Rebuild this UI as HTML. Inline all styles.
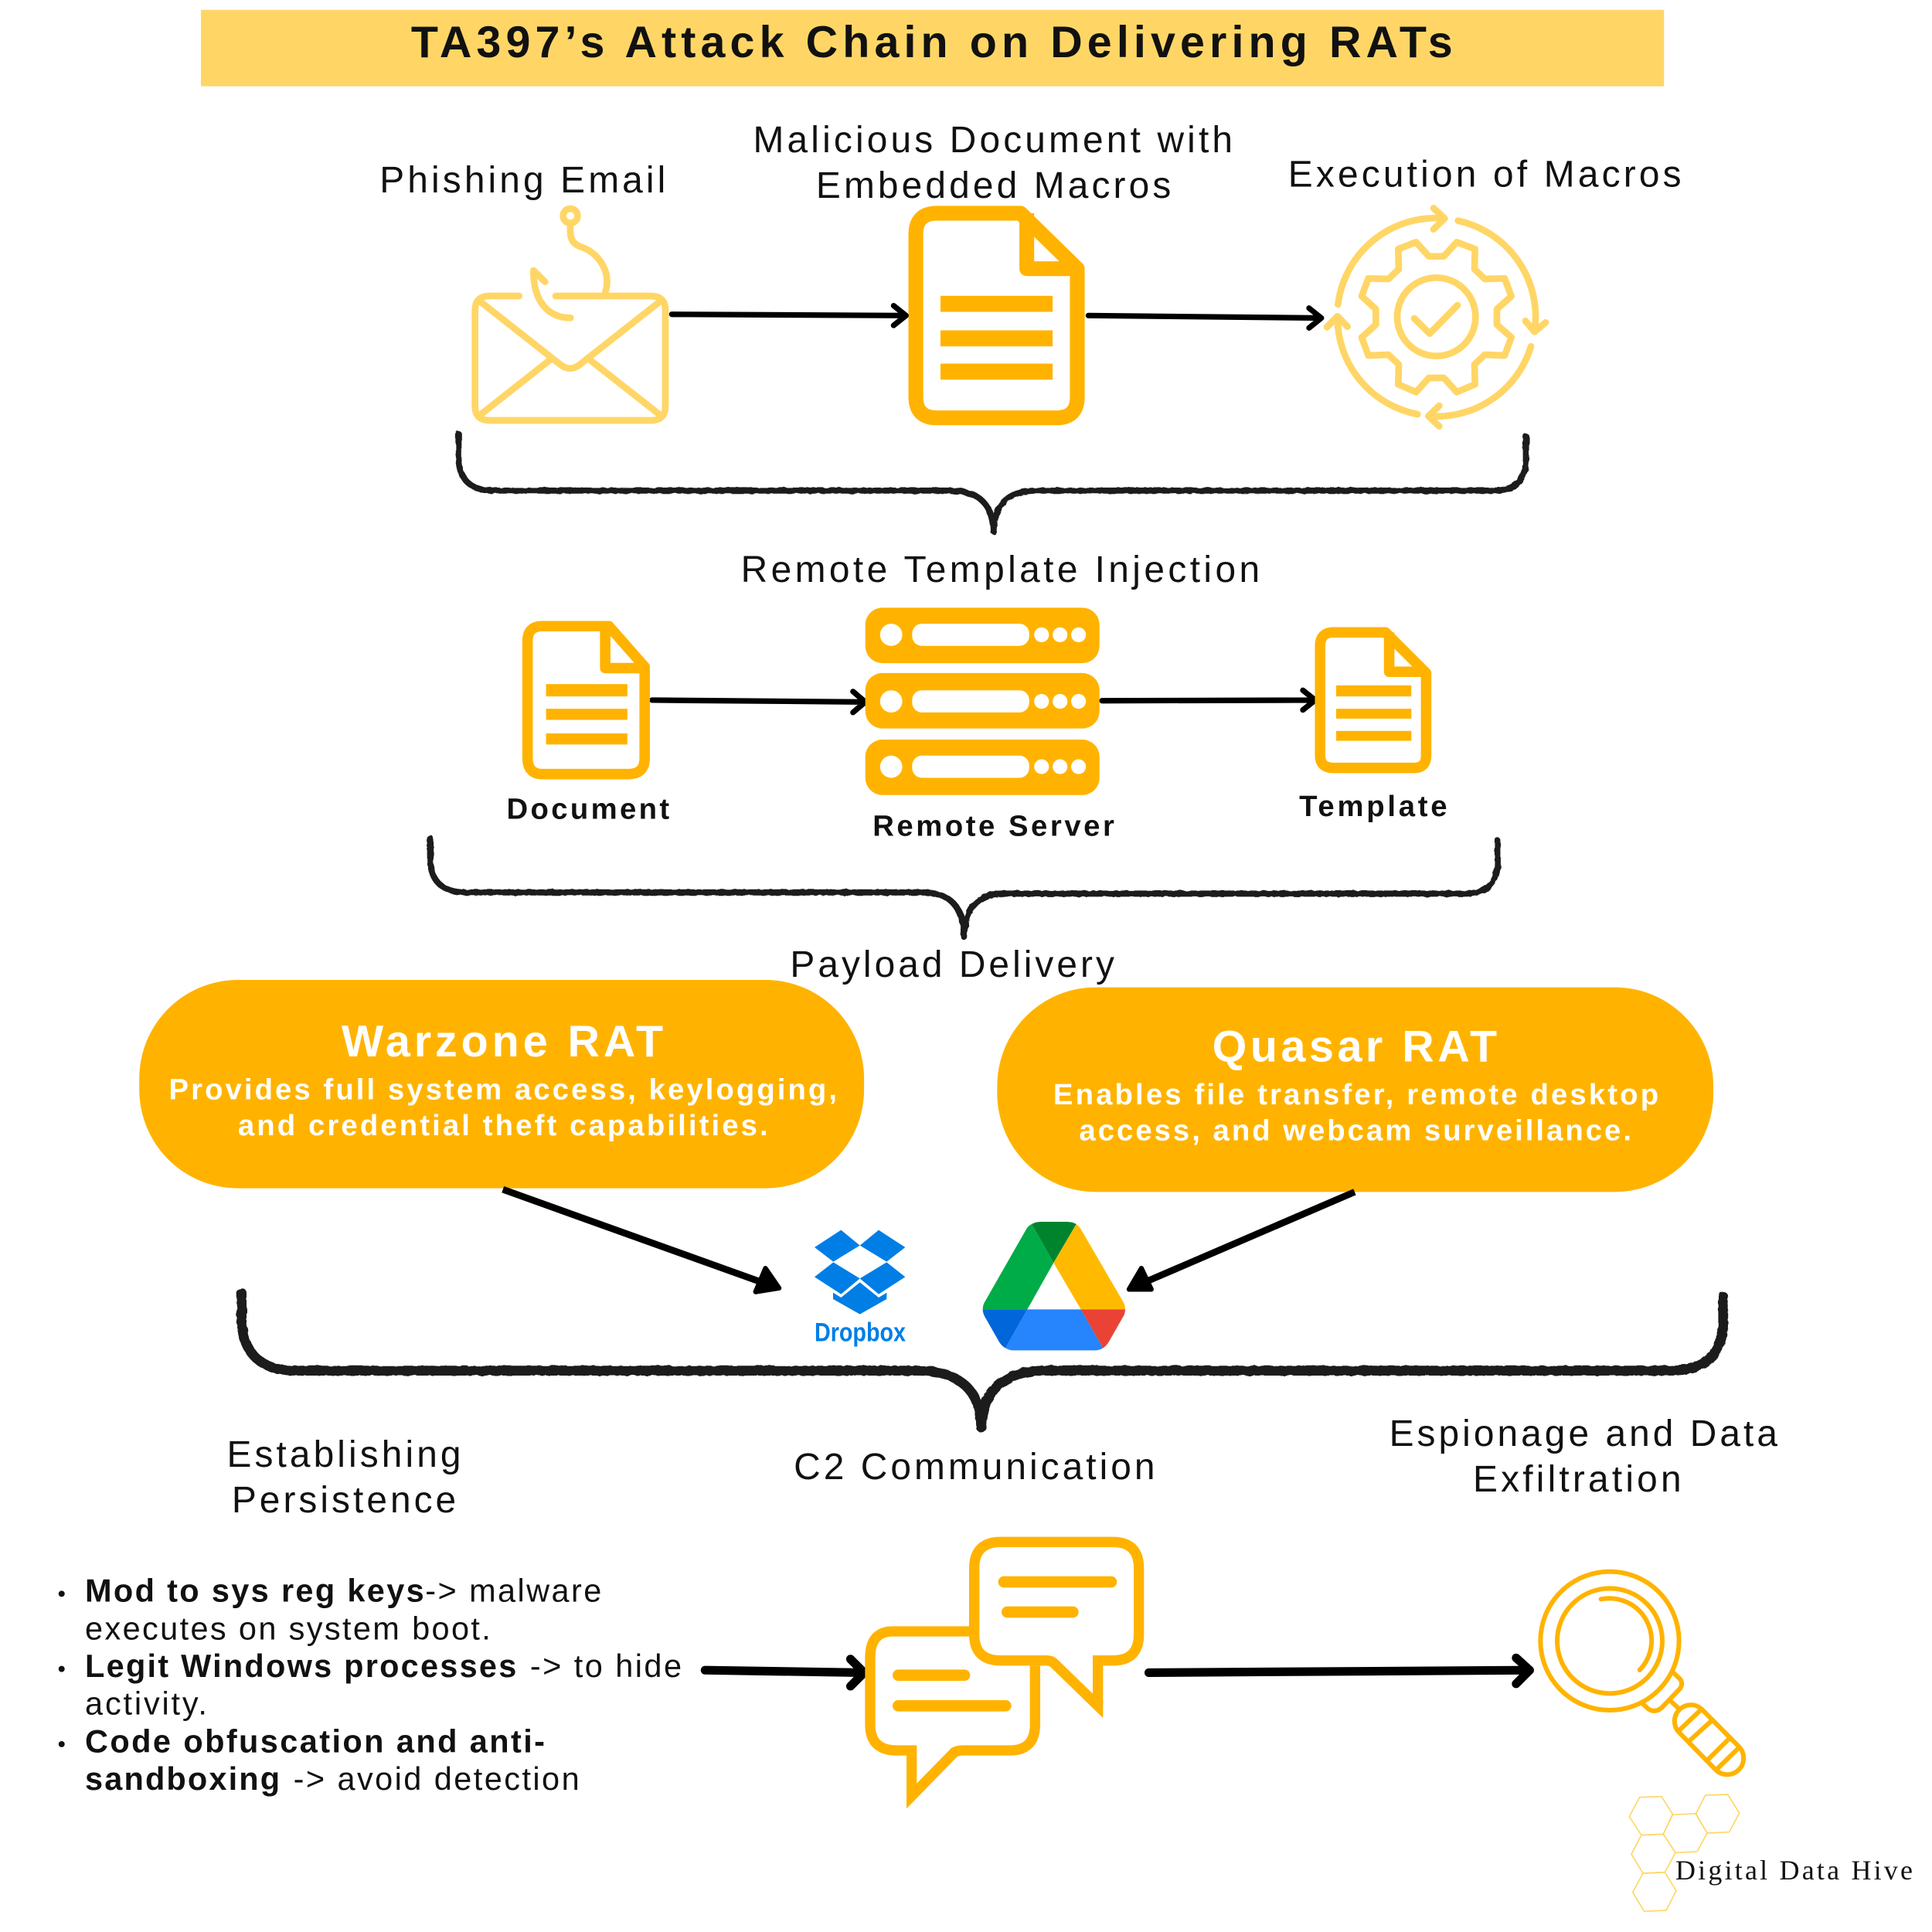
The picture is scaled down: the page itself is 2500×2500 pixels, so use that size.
<!DOCTYPE html>
<html><head><meta charset="utf-8"><title>TA397's Attack Chain on Delivering RATs</title>
<style>
html,body{margin:0;padding:0;background:#fff}
svg{display:block}
text{font-family:"Liberation Sans",sans-serif;fill:#111}
.h{font-size:30px}
.b{font-weight:bold}
.l{font-size:26px}
.w{fill:#fff;font-weight:bold}
</style></head><body>
<svg xmlns="http://www.w3.org/2000/svg" width="2500" height="2500" viewBox="0 0 2500 2500">
<defs>
<filter id="r" x="-5%" y="-20%" width="110%" height="140%"><feTurbulence type="fractalNoise" baseFrequency="0.18" numOctaves="2" seed="4"/><feDisplacementMap in="SourceGraphic" scale="2.2"/></filter>
</defs>
<rect width="2500" height="2500" fill="#fff"/>
<g transform="scale(1.595)">
<rect x="163" y="8" width="1187" height="62" fill="#FFD666"/>
<text x="333.5" y="46.5" class="b" font-size="36" textLength="845">TA397’s Attack Chain on Delivering RATs</text>

<text x="308" y="156.2" class="h" textLength="232">Phishing Email</text>
<text x="611" y="123.5" class="h" textLength="389">Malicious Document with</text>
<text x="662" y="160.5" class="h" textLength="288">Embedded Macros</text>
<text x="1045" y="151.3" class="h" textLength="319">Execution of Macros</text>
<text x="601" y="472.2" class="h" textLength="421">Remote Template Injection</text>
<text x="411" y="664.2" class="b" font-size="24" textLength="132">Document</text>
<text x="708" y="678.2" class="b" font-size="24" textLength="196">Remote Server</text>
<text x="1054" y="662.2" class="b" font-size="24" textLength="120">Template</text>
<text x="641" y="792.5" class="h" textLength="263">Payload Delivery</text>

<!-- large doc -->
<g fill="none" stroke="#FFB300" stroke-width="12" stroke-linejoin="round">
<path d="M828 173H760Q743 173 743 190V322Q743 339 760 339H857Q874 339 874 322V218Z"/>
<path d="M833 173V218H874"/>
</g>
<g fill="#FFB300"><rect x="763" y="240" width="91" height="13"/><rect x="763" y="268" width="91" height="13"/><rect x="763" y="295" width="91" height="13"/></g>

<!-- arrows -->
<g fill="none" stroke="#000" stroke-linejoin="round" stroke-linecap="round">
<g stroke-width="4.5"><path d="M545 255L735 256M725 248L735 256L725 264" /><path d="M883 256L1072 258M1062 250L1072 258L1062 266"/>
<path d="M529 568L702 569.5M692 561L702 569.5L692 578"/><path d="M894 568.5L1067 568M1057 560L1067 568L1057 576"/></g>
<g stroke-width="7"><path d="M572 1355L700 1357M690 1346L701 1357L690 1368"/><path d="M932 1357L1241 1355M1230 1345L1241 1355L1230 1366"/></g>
</g>

<!-- braces -->
<g fill="none" stroke="#1a1a1a" stroke-linecap="round" stroke-linejoin="round" filter="url(#r)">
<path stroke-width="5" d="M372 352V372Q373 398 400 398H770C790 398 805 405 806 431C807 405 822 398 842 398H1212Q1238 398 1238 372V354"/>
<path stroke-width="5" d="M349 680V698Q350 724 378 724H748C770 724 782 735 782 760C783 735 795 724 817 725H1188Q1215 725 1215 700V682"/>
<path stroke-width="8" d="M196 1049V1072Q198 1112 240 1112H745C778 1112 796 1128 796 1158C797 1128 815 1112 848 1112H1355Q1398 1112 1398 1072V1052"/>
</g>

<!-- small docs -->
<g fill="none" stroke="#FFB300" stroke-width="8.5" stroke-linejoin="round">
<path d="M494 508H440Q428 508 428 520V615Q428 628 440 628H510Q523 628 523 615V541Z"/>
<path d="M491 508V542H523"/>
<path d="M1124 513H1082Q1071 513 1071 524V613Q1071 623 1082 623H1147Q1157 623 1157 613V546Z"/>
<path d="M1127 513V545H1157"/>
</g>
<g fill="#FFB300">
<rect x="443" y="555" width="66" height="10"/><rect x="443" y="575" width="66" height="9"/><rect x="443" y="595" width="66" height="9"/>
<rect x="1084" y="556" width="61" height="9"/><rect x="1084" y="575" width="61" height="8"/><rect x="1084" y="593" width="61" height="8"/>
</g>

<!-- servers -->
<g fill="#FFB300"><rect x="702" y="493" width="190" height="45" rx="14"/><rect x="702" y="546" width="190" height="45" rx="14"/><rect x="702" y="600" width="190" height="45" rx="14"/></g>
<g fill="#fff">
<circle cx="723" cy="515" r="9"/><rect x="740" y="506" width="95" height="18" rx="8"/><circle cx="845" cy="515" r="6"/><circle cx="860" cy="515" r="6"/><circle cx="875" cy="515" r="6"/>
<circle cx="723" cy="569" r="9"/><rect x="740" y="560" width="95" height="18" rx="8"/><circle cx="845" cy="569" r="6"/><circle cx="860" cy="569" r="6"/><circle cx="875" cy="569" r="6"/>
<circle cx="723" cy="622" r="9"/><rect x="740" y="613" width="95" height="18" rx="8"/><circle cx="845" cy="622" r="6"/><circle cx="860" cy="622" r="6"/><circle cx="875" cy="622" r="6"/>
</g>

<!-- RAT pills -->
<rect x="113" y="795" width="588" height="169" rx="80" fill="#FFB300"/>
<rect x="809" y="801" width="581" height="166" rx="80" fill="#FFB300"/>
<text x="277" y="857" class="w" font-size="36" textLength="261">Warzone RAT</text>
<text x="137" y="892" class="w" font-size="24" textLength="542">Provides full system access, keylogging,</text>
<text x="193" y="921" class="w" font-size="24" textLength="430">and credential theft capabilities.</text>
<text x="983.5" y="861" class="w" font-size="36" textLength="231">Quasar RAT</text>
<text x="854.5" y="896" class="w" font-size="24" textLength="491">Enables file transfer, remote desktop</text>
<text x="875.5" y="925" class="w" font-size="24" textLength="448">access, and webcam surveillance.</text>

<path d="M408 965L620 1041" stroke="#000" stroke-width="5.5" fill="none"/>
<path d="M632 1045L613 1048L621 1029Z" fill="#000" stroke="#000" stroke-width="4" stroke-linejoin="round"/>
<path d="M1099 967L927 1041" stroke="#000" stroke-width="5.5" fill="none"/>
<path d="M916 1046L926 1029L934 1046Z" fill="#000" stroke="#000" stroke-width="4" stroke-linejoin="round"/>

<text x="184" y="1190" class="h" textLength="190">Establishing</text>
<text x="188" y="1227" class="h" textLength="182">Persistence</text>
<text x="644" y="1200" class="h" textLength="293">C2 Communication</text>
<text x="1127" y="1173" class="h" textLength="315">Espionage and Data</text>
<text x="1195" y="1210" class="h" textLength="169">Exfiltration</text>

<circle cx="50" cy="1293" r="2.5" fill="#111"/><circle cx="50" cy="1354" r="2.5" fill="#111"/><circle cx="50" cy="1415" r="2.5" fill="#111"/>
<text x="69" y="1299.5" class="l b" textLength="275">Mod to sys reg keys</text><text x="345" y="1299.5" class="l" textLength="143">-&gt; malware</text>
<text x="69" y="1330" class="l" textLength="329">executes on system boot.</text>
<text x="69" y="1360.5" class="l b" textLength="350">Legit Windows processes</text><text x="430" y="1360.5" class="l" textLength="123">-&gt; to hide</text>
<text x="69" y="1391" class="l" textLength="99">activity.</text>
<text x="69" y="1421.5" class="l b" textLength="373">Code obfuscation and anti-</text>
<text x="69" y="1452" class="l b" textLength="158">sandboxing</text><text x="238" y="1452" class="l" textLength="232">-&gt; avoid detection</text>
</g>

<!-- email -->
<g transform="translate(600 260) scale(.33333)" fill="none" stroke="#FFD666" stroke-width="26" stroke-linecap="round" stroke-linejoin="round">
<path d="M215 369H100Q44 369 44 425V796Q44 852 100 852H727Q783 852 783 796V425Q783 369 727 369H357"/>
<path d="M70 395L375 635Q413 665 451 635L756 395"/>
<path d="M70 826L335 617M756 826L490 617"/>
<circle cx="414" cy="58" r="28"/>
<path d="M414 95V120Q414 165 455 178C520 200 575 270 550 355"/>
<path d="M415 454C320 454 270 380 271 270L316 314"/>
</g>

<!-- gear -->
<g transform="translate(1700 260) scale(.33333)" fill="none" stroke="#FFD666" stroke-width="26" stroke-linecap="round" stroke-linejoin="round">
<circle cx="476" cy="450" r="152"/>
<path d="M390 456L450 515L558 405"/>
<path d="M397 160L447 215H505L555 160L626 187L624 265L664 303L741 301L767 370L711 420V480L767 530L741 600L664 597L624 635L626 712L555 742L505 687H447L397 742L328 712L330 635L290 597L212 600L186 530L241 480V420L186 370L212 301L290 303L330 265L328 187Z"/>
<path d="M94 402A382 382 0 0 1 506 68M465 28L508 68L465 110"/>
<path d="M560 77A382 382 0 0 1 858 500M822 466L857 508L900 472"/>
<path d="M843 565A382 382 0 0 1 445 835M487 795L445 835L487 875"/>
<path d="M403 828A382 382 0 0 1 92 450M51 490L92 448L131 488"/>
</g>

<!-- chat -->
<g transform="translate(1100 1970) scale(.33333)" fill="none" stroke="#FFB300">
<g stroke-width="40" stroke-linejoin="miter" stroke-miterlimit="6">
<path d="M585 76H1020Q1121 76 1121 178V435Q1121 536 1020 536H962V712L790 545Q780 536 760 536H585Q482 536 482 435V178Q482 76 585 76Z"/>
<path d="M462 423H165Q78 423 78 525V785Q78 885 180 885H239V1062L405 892Q418 885 440 885H620Q718 885 718 785V556"/>
</g>
<path stroke-width="44" stroke-linecap="round" d="M597 231H1014M610 348H865M187 593H444M187 712H604"/>
</g>

<!-- magnifier and hive -->
<g transform="translate(2100 2030) scale(.33333)" fill="none">
<g stroke="#FFB300" stroke-width="18" stroke-linecap="round" stroke-linejoin="round">
<circle cx="-51" cy="280" r="269"/>
<circle cx="-51" cy="280" r="204"/>
<path d="M-85 118A164 164 0 0 1 65 393"/>
<path d="M198 405L222 428Q235 445 222 465L150 540Q125 560 100 545L78 525"/>
<path d="M190 518L220 545"/>
<path d="M306 545L450 690A63 63 0 0 1 360 780L217 634A63 63 0 0 1 306 545Z"/>
<path d="M300 550L218 628M342 592L258 668M412 660L333 738M450 695L368 775"/>
</g>
<g stroke="#FFD666" stroke-width="5" stroke-linejoin="round">
<path d="M65 887L150 884L193 952L157 1030L72 1034L25 962Z"/>
<path d="M320 879L407 876L452 948L413 1022L327 1026L283 952Z"/>
<path d="M193 955L283 950L327 1026L288 1098L204 1102L157 1030Z"/>
<path d="M72 1034L157 1030L204 1102L163 1178L78 1182L33 1108Z"/>
<path d="M78 1182L163 1178L207 1250L168 1326L83 1330L38 1256Z"/>
</g>
</g>
<text x="2168" y="2432" font-size="36" textLength="307" style='font-family:"Liberation Serif",serif'>Digital Data Hive</text>

<!-- dropbox and drive -->
<g transform="translate(1000 1550) scale(.33333)">
<g fill="#007EE5">
<path d="M265 125L162 192L235 248L338 185Z"/>
<path d="M411 125L338 185L442 248L514 192Z"/>
<path d="M235 250L162 307L265 374L338 313Z"/>
<path d="M442 250L338 313L411 374L514 307Z"/>
<path d="M338 328L411 387L442 368V393L338 452L234 393V368L265 387Z"/>
</g>
<text x="162" y="556" font-size="104" font-weight="bold" textLength="354" lengthAdjust="spacingAndGlyphs" style="fill:#007EE5">Dropbox</text>
<path fill="#00832D" d="M1005 102Q1020 93 1040 93H1140Q1165 93 1178 102L1090 252Z"/>
<path fill="#00AC47" d="M1005 102L1090 252L988 433H815Q815 415 825 400L985 120Q992 108 1005 102Z"/>
<path fill="#FFBA00" d="M1178 102L1090 252L1196 433H1368Q1368 415 1358 400L1198 125Q1190 110 1178 102Z"/>
<path fill="#0066DA" d="M815 433H988L903 583Q888 575 878 558L825 465Q815 448 815 433Z"/>
<path fill="#2684FC" d="M988 433H1196L1282 583Q1268 592 1250 592H935Q918 592 903 583Z"/>
<path fill="#EA4335" d="M1196 433H1368Q1368 450 1358 465L1305 558Q1295 575 1282 583Z"/>
</g>
</svg>
</body></html>
